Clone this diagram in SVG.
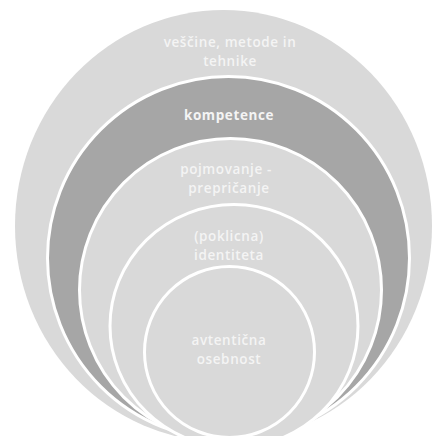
<svg xmlns="http://www.w3.org/2000/svg" width="434" height="436" viewBox="0 0 434 436">
  <style>
    .ring { stroke: #ffffff; stroke-width: 3; }
    .light { fill: #d9d9d9; }
    .dark { fill: #a6a6a6; }
    .label { font-family: "Open Sans", "DejaVu Sans", sans-serif; font-size: 13.5px; font-weight: 600; letter-spacing: 0.6px; fill: #f4f4f4; text-anchor: middle; }
    .strong { font-weight: bold; }
  </style>
  <rect width="434" height="436" fill="#ffffff"/>

  <!-- outer layer -->
  <g id="vescine">
    <ellipse class="light" cx="223.5" cy="226" rx="208.5" ry="216"/>
    <text class="label" x="230" y="47">veščine, metode in</text>
    <text class="label" x="230" y="66">tehnike</text>
  </g>

  <g id="kompetence">
    <ellipse class="ring dark" cx="228.5" cy="258" rx="181" ry="181.5"/>
    <text class="label strong" x="229" y="120">kompetence</text>
  </g>

  <g id="pojmovanje">
    <ellipse class="ring light" cx="230.5" cy="290" rx="151" ry="151.5"/>
    <text class="label" x="226" y="174">pojmovanje -</text>
    <text class="label" x="229" y="193">prepričanje</text>
  </g>

  <g id="identiteta">
    <ellipse class="ring light" cx="234" cy="326" rx="124" ry="121.5"/>
    <text class="label" x="229" y="241">(poklicna)</text>
    <text class="label" x="229" y="260">identiteta</text>
  </g>

  <!-- innermost layer -->
  <g id="osebnost">
    <ellipse class="ring light" cx="229.5" cy="352" rx="85" ry="85.5"/>
    <text class="label" x="229" y="345">avtentična</text>
    <text class="label" x="229" y="364">osebnost</text>
  </g>
</svg>
